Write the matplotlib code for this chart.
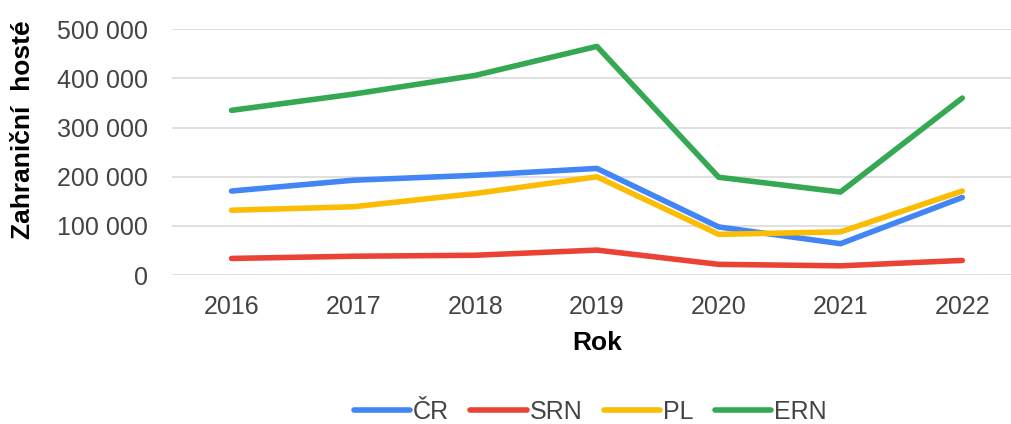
import matplotlib
matplotlib.use("Agg")
import matplotlib.pyplot as plt
from matplotlib.ticker import FuncFormatter

years = ["2016", "2017", "2018", "2019", "2020", "2021", "2022"]
cr = [171000, 193000, 203000, 217000, 98000, 64000, 158000]
srn = [34000, 38500, 40500, 51000, 22000, 19000, 30000]
pl = [132000, 139000, 166000, 200000, 83000, 88000, 171000]
ern = [335000, 368000, 406000, 465000, 199000, 169000, 360000]

series = [("ČR", cr, "#4285F4"), ("SRN", srn, "#EA4335"),
          ("PL", pl, "#FBBC04"), ("ERN", ern, "#34A853")]

plt.rcParams['font.family'] = ['Liberation Sans', 'DejaVu Sans']

fig = plt.figure(figsize=(10.11, 4.24), dpi=100)
ax = fig.add_axes([0.170, 0.351, 0.830, 0.5802])

x = range(len(years))
for name, vals, col in series:
    ax.plot(x, vals, color=col, lw=4, label=name, solid_capstyle='round', solid_joinstyle='round')

ax.set_xlim(-0.49, 6.4)
ax.set_ylim(0, 500000)
ax.set_yticks([0, 100000, 200000, 300000, 400000, 500000])
ax.yaxis.set_major_formatter(FuncFormatter(lambda v, p: f"{v:,.0f}".replace(",", " ")))
ax.set_xticks(list(x))
ax.set_xticklabels(years)
ax.grid(axis='y', color='#dadada', lw=1.2)
ax.set_axisbelow(True)
for s in ax.spines.values():
    s.set_visible(False)
ax.tick_params(length=0, labelsize=18, labelcolor='#444444')
ax.tick_params(axis='y', pad=17)
ax.tick_params(axis='x', pad=14)

fig.text(23 / 1011, 0.695, "Zahraniční  hosté", rotation=90, ha='center', va='center',
         fontsize=19, fontweight='bold', color='black')
fig.text(597 / 1011, 1 - 343 / 424, "Rok", ha='center', va='center',
         fontsize=19, fontweight='bold', color='black')

leg = fig.legend(loc='center', bbox_to_anchor=(590 / 1011, 1 - 412 / 424), ncol=4,
                 frameon=False, fontsize=18, handlelength=2.25, handletextpad=0.12,
                 columnspacing=0.85)
for t in leg.get_texts():
    t.set_color('#444444')

fig.savefig("out.png", dpi=100)
